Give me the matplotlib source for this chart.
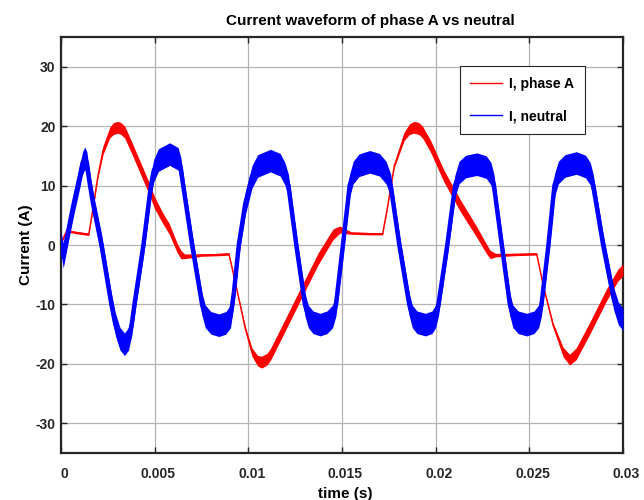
import numpy as np
import matplotlib
matplotlib.use("Agg")
import matplotlib.pyplot as plt
import matplotlib.transforms as mtransforms

# ---- data ----
t_blue = [0.0, 0.00012, 0.00030, 0.00065, 0.00100, 0.00115, 0.00127, 0.00138, 0.00150,
          0.00171, 0.00216, 0.00269, 0.00290, 0.00315, 0.00339, 0.00360, 0.00378, 0.00392,
          0.00440, 0.00480, 0.00495, 0.00520, 0.00580, 0.00625, 0.00640, 0.00650, 0.00700,
          0.00753, 0.00770, 0.00800, 0.00843, 0.00880, 0.00905, 0.00922, 0.00949, 0.00984,
          0.01020, 0.01050, 0.01118, 0.01170, 0.01195, 0.01214, 0.01256, 0.01302, 0.01320,
          0.01345, 0.01383, 0.01420, 0.01450, 0.01468, 0.01505, 0.01541, 0.01560, 0.01590,
          0.01648, 0.01700, 0.01735, 0.01760, 0.01806, 0.01859, 0.01875, 0.01900, 0.01945,
          0.01980, 0.02000, 0.02015, 0.02062, 0.02104, 0.02125, 0.02160, 0.02220, 0.02270,
          0.02295, 0.02311, 0.02353, 0.02396, 0.02412, 0.02440, 0.02486, 0.02525, 0.02550,
          0.02565, 0.02602, 0.02634, 0.02655, 0.02690, 0.02751, 0.02800, 0.02825, 0.02841,
          0.02894, 0.02950, 0.02975, 0.03000]
i_blue = [0.5, -2.0, 1.0, 6.5, 11.5, 13.8, 14.6, 13.8, 11.0,
          7.0, 0.0, -10.0, -13.3, -15.8, -16.7, -15.8, -13.3, -10.0,
          0.0, 10.0, 12.5, 14.3, 15.3, 14.5, 12.8, 10.5, 0.0,
          -10.0, -12.0, -13.1, -13.5, -13.1, -12.0, -8.3, 0.0, 7.0,
          11.5, 13.3, 14.2, 13.5, 12.0, 10.0, 0.0, -10.0, -12.0,
          -13.0, -13.4, -13.0, -12.0, -10.0, 0.0, 10.0, 12.2, 13.4,
          14.0, 13.5, 12.2, 10.0, 0.0, -10.0, -12.0, -13.0, -13.4,
          -13.0, -12.0, -10.0, 0.0, 10.0, 12.2, 13.2, 13.6, 13.1,
          12.0, 10.0, 0.0, -10.0, -12.0, -13.0, -13.4, -13.0, -12.0,
          -10.0, 0.0, 10.0, 12.2, 13.3, 13.8, 13.2, 12.0, 10.0,
          0.0, -9.0, -11.5, -12.5]
ripple_blue = 1.9

t_red = [0.0, 0.00030, 0.00080, 0.00148, 0.00170, 0.00197, 0.00225, 0.00260, 0.00280,
         0.00304, 0.00320, 0.00340, 0.00380, 0.00419, 0.00472, 0.00498, 0.00540, 0.00578,
         0.00620, 0.00640, 0.00660, 0.00750, 0.00850, 0.00896, 0.00922, 0.00949, 0.00984,
         0.01019, 0.01050, 0.01072, 0.01100, 0.01120, 0.01196, 0.01284, 0.01373, 0.01452,
         0.01488, 0.01550, 0.01650, 0.01717, 0.01744, 0.01779, 0.01832, 0.01860, 0.01885,
         0.01910, 0.01930, 0.01973, 0.02044, 0.02132, 0.02221, 0.02270, 0.02291, 0.02320,
         0.02420, 0.02539, 0.02574, 0.02627, 0.02680, 0.02715, 0.02750, 0.02821, 0.02910,
         0.02972, 0.03000]
i_red = [0.3, 2.4, 2.1, 1.8, 6.0, 11.6, 16.0, 18.9, 19.6,
         19.8, 19.6, 19.0, 16.2, 13.3, 9.4, 7.2, 4.7, 2.7,
         -0.5, -1.6, -1.9, -1.7, -1.6, -1.5, -5.1, -9.0, -14.1,
         -18.0, -19.5, -19.7, -19.2, -18.3, -13.5, -7.9, -2.3, 1.8,
         2.6, 2.0, 1.9, 1.9, 6.6, 13.3, 18.3, 19.5, 19.8,
         19.6, 19.0, 16.6, 11.6, 6.6, 2.1, -0.6, -1.6, -1.7,
         -1.6, -1.5, -6.8, -13.5, -18.0, -19.3, -18.3, -14.1, -8.5,
         -5.1, -4.2]
ripple_red = [0.2, 0.2, 0.2, 0.2, 0.2, 0.3, 0.7, 0.9, 1.0,
              1.0, 1.0, 1.0, 1.0, 1.0, 1.0, 1.0, 0.9, 0.9,
              0.8, 0.7, 0.4, 0.2, 0.2, 0.2, 0.2, 0.2, 0.4,
              0.7, 0.9, 1.0, 1.0, 1.0, 1.0, 1.0, 1.0, 0.9,
              0.6, 0.2, 0.2, 0.2, 0.2, 0.3, 0.7, 0.9, 1.0,
              1.0, 1.0, 1.0, 1.0, 1.0, 0.9, 0.8, 0.7, 0.3,
              0.2, 0.2, 0.2, 0.4, 0.8, 0.9, 1.0, 1.0, 1.0,
              1.0, 1.0]

xticks = [0, 0.005, 0.01, 0.015, 0.02, 0.025, 0.03]
xticklabels = ["0", "0.005", "0.01", "0.015", "0.02", "0.025", "0.03"]
yticks = [-30, -20, -10, 0, 10, 20, 30]
yticklabels = ["-30", "-20", "-10", "0", "10", "20", "30"]

# ---- figure ----
plt.rcParams['font.family'] = ['Liberation Sans', 'DejaVu Sans']
fig = plt.figure(figsize=(6.44, 5.0), dpi=100)
ax = fig.add_axes([61/644, 47/500, 562/644, 416/500])

tb = np.array(t_blue); ib = np.array(i_blue)
tr = np.array(t_red); ir = np.array(i_red); rr = np.array(ripple_red)

ax.fill_between(tr, ir - rr, ir + rr, color='#ff0000', lw=0, zorder=3)
ax.plot(tr, ir, color='#ff0000', lw=1.0, zorder=3, label='I, phase A')
ax.fill_between(tb, ib - ripple_blue, ib + ripple_blue, color='#0000ff', lw=0, zorder=4)
ax.plot(tb, ib, color='#0000ff', lw=3.2, zorder=4, label='I, neutral',
        solid_joinstyle='round')

ax.set_xlim(0, 0.03)
ax.set_ylim(-35, 35)
ax.set_xticks(xticks)
ax.set_xticklabels(xticklabels)
ax.set_yticks(yticks)
ax.set_yticklabels(yticklabels)
ax.grid(True, color='#b4b4b4', lw=0.9)
ax.set_axisbelow(True)
ax.tick_params(direction='in', length=4, width=1.0, top=True, right=True,
               labelsize=10, colors='#262626')
ax.tick_params(axis='x', pad=10)
ax.tick_params(axis='y', pad=4)
shift = mtransforms.ScaledTranslation(3.5/100, 0, fig.dpi_scale_trans)
for lab in ax.get_xticklabels():
    lab.set_fontweight('bold')
    lab.set_transform(lab.get_transform() + shift)
for lab in ax.get_yticklabels():
    lab.set_fontweight('bold')
for sp in ax.spines.values():
    sp.set_linewidth(1.6)
    sp.set_color('#262626')

ax.set_title('Current waveform of phase A vs neutral', fontsize=11,
             fontweight='bold', pad=9, x=0.550)
ax.set_xlabel('time (s)', fontsize=11, fontweight='bold', labelpad=5)
ax.xaxis.set_label_coords(0.505, -0.082)
ax.xaxis.label.set_va('top')
ax.set_ylabel('Current (A)', fontsize=11, fontweight='bold', labelpad=2)

leg = ax.legend(loc='upper right', bbox_to_anchor=(0.932, 0.930), borderaxespad=0,
                fancybox=False, framealpha=1, edgecolor='#262626',
                prop={'weight': 'bold', 'size': 10}, handlelength=2.3,
                labelspacing=1.35, borderpad=0.75, handletextpad=0.5)
leg.get_frame().set_linewidth(0.8)
for h in leg.get_lines():
    h.set_linewidth(1.0)

fig.savefig('out.png', dpi=100)
